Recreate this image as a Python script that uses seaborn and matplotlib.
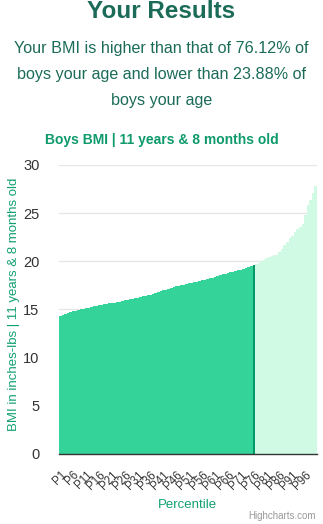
import matplotlib
matplotlib.use("Agg")
import matplotlib.pyplot as plt
import seaborn as sns
import pandas as pd
import numpy as np

# ---- data ----
percentiles = [f"P{i}" for i in range(1, 101)]
bmi_values = [
    14.3, 14.4, 14.5, 14.6, 14.7, 14.8, 14.85, 14.9, 15.0, 15.05,
    15.1, 15.17, 15.25, 15.3, 15.35, 15.4, 15.45, 15.5, 15.55, 15.6,
    15.65, 15.7, 15.75, 15.8, 15.87, 15.93, 16.0, 16.04, 16.1, 16.15,
    16.2, 16.27, 16.33, 16.4, 16.45, 16.5, 16.6, 16.65, 16.75, 16.85,
    16.95, 17.05, 17.15, 17.25, 17.3, 17.4, 17.45, 17.5, 17.55, 17.6,
    17.7, 17.75, 17.8, 17.85, 17.9, 18.0, 18.05, 18.15, 18.2, 18.3,
    18.4, 18.5, 18.55, 18.65, 18.7, 18.8, 18.85, 18.9, 19.0, 19.05,
    19.1, 19.2, 19.25, 19.35, 19.45, 19.6, 19.7, 19.85, 20.0, 20.15,
    20.3, 20.4, 20.5, 20.6, 20.65, 21.0, 21.3, 21.7, 22.0, 22.4,
    22.65, 23.0, 23.3, 23.55, 23.9, 24.8, 25.8, 26.35, 27.1, 27.85,
]
user_index = 75  # P76
tick_labels = [f"P{i}" for i in range(1, 101, 5)]
y_ticks = [0, 5, 10, 15, 20, 25, 30]

main_title = "Your Results"
sub_lines = [
    "Your BMI is higher than that of 76.12% of",
    "boys your age and lower than 23.88% of",
    "boys your age",
]
chart_title = "Boys BMI | 11 years & 8 months old"
y_label = "BMI in inches-lbs | 11 years & 8 months old"
x_label = "Percentile"
credit = "Highcharts.com"

groups = ["below" if i < user_index else ("you" if i == user_index else "above")
          for i in range(len(bmi_values))]
df = pd.DataFrame({"pct": percentiles, "bmi": bmi_values, "group": groups})

# ---- style ----
sns.set_theme(style="white")
plt.rcParams["font.family"] = ["Liberation Sans", "DejaVu Sans"]

W, H = 323, 524
fig = plt.figure(figsize=(W / 100, H / 100), dpi=100)
left, right, top, bottom = 59, 317, 165, 453.5
ax = fig.add_axes([left / W, 1 - bottom / H, (right - left) / W, (bottom - top) / H])

palette = {"below": "#34d399", "you": "#059669", "above": "#d1fae5"}
sns.barplot(data=df, x="pct", y="bmi", hue="group", palette=palette,
            dodge=False, width=1.0, linewidth=0, saturation=1, legend=False, ax=ax)

ax.set_xlim(-0.5, len(bmi_values) - 0.5)
ax.set_ylim(0, 30)
ax.set_yticks(y_ticks)
ax.set_yticklabels([str(v) for v in y_ticks], fontsize=10.5, color="#333333")
ax.yaxis.grid(True, color="#e6e6e6", linewidth=1)
ax.set_axisbelow(True)
ax.set_xticks(list(range(0, 100, 5)))
ax.set_xticklabels(tick_labels, rotation=45, ha="right", rotation_mode="anchor",
                   fontsize=8.3, color="#333333")
ax.tick_params(axis="x", length=0, pad=11)
ax.tick_params(axis="y", length=0, pad=14)
for s in ["top", "right", "left"]:
    ax.spines[s].set_visible(False)
ax.spines["bottom"].set_color("#333333")
ax.spines["bottom"].set_linewidth(1)
ax.set_xlabel("")
ax.set_ylabel("")

def ftext(x, y, s, **kw):
    fig.text(x / W, 1 - y / H, s, **kw)

ftext(161.5, 12, main_title, ha="center", va="center", fontsize=17.5,
      fontweight="bold", color="#1b6b58")
for i, line in enumerate(sub_lines):
    ftext(161.5, 48 + i * 26, line, ha="center", va="center", fontsize=11.6,
          color="#1b6b58")
ftext(161.5, 140, chart_title, ha="center", va="center", fontsize=10,
      fontweight="bold", color="#0e9a6c")
ftext(14, 304, y_label, ha="center", va="center", rotation=90, fontsize=9.5,
      color="#10a070")
ftext(187, 505, x_label, ha="center", va="center", fontsize=9.5, color="#10a070")
ftext(316, 516, credit, ha="right", va="center", fontsize=7, color="#999999")

fig.savefig("out.png", dpi=100)
